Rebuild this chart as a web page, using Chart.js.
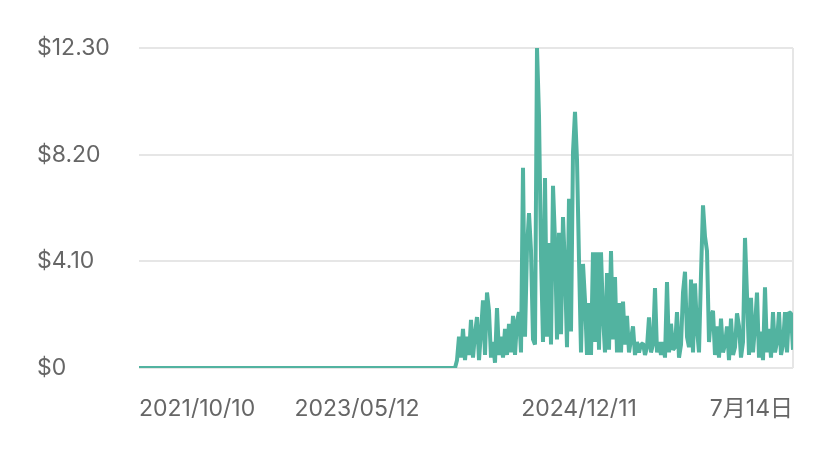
<!DOCTYPE html>
<html>
<head>
<meta charset="utf-8">
<script src="https://cdn.jsdelivr.net/npm/chart.js@4"></script>
<style>
  html, body { margin: 0; padding: 0; background: #fff; }
  #wrap { width: 828px; height: 449px; }
</style>
</head>
<body>
<div id="wrap"><canvas id="chart" width="828" height="449"></canvas></div>
<script>
// quiet period before the first earnings (all zero)
const flatValues = Array(159).fill(0);

// daily earnings once activity starts
const activeValues = [
  0.3, 1.2, 0.4, 1.5, 0.3, 1.2, 0.5, 1.85, 0.4, 1.3,
  1.96, 0.3, 1.4, 2.6, 0.5, 2.9, 2.2, 0.4, 1.0, 0.2,
  2.3, 0.5, 1.2, 0.4, 1.5, 0.5, 1.7, 0.6, 2.0, 0.5,
  1.8, 2.15, 0.6, 7.7, 1.2, 4.6, 5.95, 4.5, 1.1, 0.9,
  12.3, 9.7, 4.3, 1.0, 7.3, 1.2, 4.8, 0.9, 7.0, 4.9,
  1.1, 5.2, 1.3, 5.8, 3.8, 0.8, 6.5, 1.4, 8.3, 9.85,
  8.0, 4.15, 0.6, 4.0, 2.6, 0.5, 2.5, 0.5, 4.45, 1.0,
  4.45, 0.7, 4.45, 2.0, 0.6, 3.65, 0.7, 4.5, 1.1, 3.5,
  0.6, 2.5, 0.6, 2.55, 0.9, 2.0, 0.6, 1.1, 1.6, 0.5,
  1.0, 0.6, 0.9, 0.95, 0.5, 0.8, 1.95, 0.6, 0.9, 3.07,
  0.6, 1.0, 0.5, 1.0, 0.4, 3.3, 0.6, 1.7, 0.7, 0.8,
  2.15, 0.4, 0.9, 2.9, 3.7, 1.2, 0.8, 3.4, 0.6, 3.25,
  1.5, 0.6, 3.6, 6.25, 5.05, 4.5, 1.0, 2.0, 2.2, 0.5,
  1.6, 0.4, 1.9, 0.6, 0.9, 1.6, 0.3, 1.9, 0.5, 0.8,
  2.1, 1.6, 0.4, 1.0, 5.0, 2.8, 0.5, 2.7, 0.6, 1.6,
  2.9, 0.4, 1.4, 0.3, 3.1, 0.6, 1.5, 0.4, 2.15, 0.6,
  1.0, 2.15, 0.5, 0.9, 2.15, 0.6, 2.15, 2.1, 0.7
];

const values = flatValues.concat(activeValues);

const xTickIndex = [0, 109, 220, values.length - 1];
const xTickLabels = ['2021/10/10', '2023/05/12', '2024/12/11', '7月14日'];

const yTickValues = [0, 4.1, 8.2, 12.3];
const yTickLabels = ['$0', '$4.10', '$8.20', '$12.30'];

const points = values.map((v, i) => ({ x: i, y: v }));

const fontFamily = "Inter, 'Noto Sans CJK JP', sans-serif";
const textColor = '#666666';
const gridColor = '#e6e6e6';

const ctx = document.getElementById('chart').getContext('2d');
new Chart(ctx, {
  type: 'line',
  data: {
    datasets: [
      {
        data: points,
        borderColor: '#52b3a0',
        backgroundColor: '#52b3a0',
        borderWidth: 4,
        borderJoinStyle: 'bevel',
        pointRadius: 0,
        tension: 0,
        fill: false,
      },
    ],
  },
  options: {
    responsive: false,
    animation: false,
    layout: { padding: { left: 37, right: 35, top: 48, bottom: 21 } },
    plugins: { legend: { display: false }, tooltip: { enabled: false } },
    scales: {
      x: {
        type: 'linear',
        min: 0,
        max: values.length - 1,
        afterBuildTicks: (scale) => {
          scale.ticks = xTickIndex.map((v) => ({ value: v }));
        },
        afterFit: (scale) => {
          scale.height = 60;
        },
        ticks: {
          align: 'inner',
          maxRotation: 0,
          autoSkip: false,
          padding: 27,
          color: textColor,
          font: { family: fontFamily, size: 23 },
          callback: (v, i) => xTickLabels[i],
        },
        grid: {
          drawTicks: false,
          lineWidth: 2,
          color: (c) => (c.index === xTickIndex.length - 1 ? gridColor : 'rgba(0,0,0,0)'),
        },
        border: { display: false },
      },
      y: {
        min: 0,
        max: 12.3,
        afterBuildTicks: (scale) => {
          scale.ticks = yTickValues.map((v) => ({ value: v }));
        },
        afterFit: (scale) => {
          scale.width = 102;
        },
        ticks: {
          crossAlign: 'far',
          color: textColor,
          font: { family: fontFamily, size: 23 },
          callback: (v, i) => yTickLabels[i],
        },
        grid: { drawTicks: false, lineWidth: 2, color: gridColor },
        border: { display: false },
      },
    },
  },
});
</script>
</body>
</html>
